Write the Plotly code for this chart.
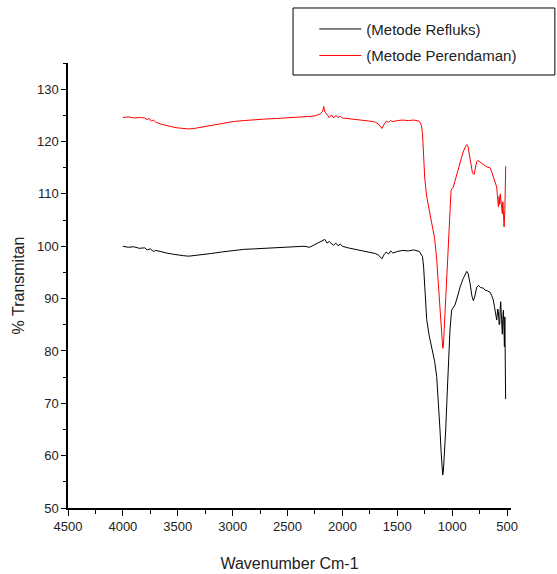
import plotly.graph_objects as go

# Wavenumbers (cm-1) and % transmittance
wn_refluks = [4000, 3950, 3900, 3850, 3800, 3780, 3750, 3720, 3700, 3650, 3600, 3550, 3500,
              3450, 3400, 3350, 3300, 3200, 3100, 3000, 2900, 2800, 2700, 2600, 2500, 2400,
              2350, 2300, 2250, 2200, 2180, 2160, 2140, 2120, 2100, 2080, 2060, 2040, 2020,
              2000, 1950, 1900, 1850, 1800, 1750, 1700, 1670, 1650, 1640, 1620, 1600, 1580,
              1560, 1540, 1500, 1450, 1400, 1350, 1320, 1300, 1290, 1280, 1270, 1260, 1250,
              1232, 1210, 1186, 1160, 1141, 1125, 1111, 1100, 1090, 1086, 1080, 1070, 1059,
              1047, 1035, 1020, 1005, 990, 974, 950, 928, 900, 880, 867, 855, 845, 837, 820,
              807, 795, 785, 776, 760, 740, 716, 700, 680, 655, 640, 625, 615, 610, 600, 594,
              585, 579, 572, 567, 562, 558, 550, 543, 538, 533, 528, 524, 520, 517, 515, 513]
t_refluks = [100.0, 99.8, 99.9, 99.6, 99.7, 99.3, 99.5, 99.0, 99.2, 98.9, 98.7, 98.5, 98.3,
             98.2, 98.1, 98.2, 98.3, 98.6, 98.9, 99.2, 99.4, 99.5, 99.6, 99.7, 99.8, 99.9,
             100.0, 99.8, 100.3, 100.8, 101.0, 101.3, 100.6, 100.9, 100.5, 100.2, 100.6, 100.1, 100.4,
             100.0, 99.7, 99.5, 99.2, 99.0, 98.8, 98.6, 98.3, 97.9, 97.6, 98.4, 98.9, 98.5,
             99.1, 98.7, 99.0, 99.2, 99.1, 99.3, 99.2, 99.0, 98.7, 98.4, 98.0, 96.0, 92.0,
             86.0, 83.0, 80.8, 78.0, 75.1, 70.5, 65.0, 60.5, 57.0, 56.3, 57.0, 60.0, 64.9,
             71.0, 77.6, 84.0, 87.8, 88.4, 88.8, 90.5, 92.2, 93.8, 94.8, 95.2, 94.8, 93.8, 92.9, 90.5,
             89.6, 90.3, 91.6, 92.2, 92.5, 92.1, 92.0, 91.6, 91.5, 91.2, 90.6, 89.7, 88.5, 87.8, 86.5, 85.9,
             88.0, 87.5, 85.0, 85.1, 88.2, 89.4, 86.0, 83.2, 86.5, 87.8, 84.0, 80.8, 86.5, 82.0, 77.0, 70.8]

wn_perendaman = [4000, 3950, 3900, 3850, 3800, 3780, 3760, 3740, 3720, 3700, 3650, 3600, 3550,
                 3500, 3450, 3400, 3350, 3300, 3200, 3100, 3000, 2900, 2800, 2700, 2600, 2500,
                 2400, 2300, 2250, 2200, 2180, 2170, 2160, 2140, 2120, 2100, 2080, 2060, 2040,
                 2020, 2000, 1950, 1900, 1850, 1800, 1750, 1700, 1670, 1650, 1640, 1620, 1600,
                 1580, 1560, 1540, 1500, 1450, 1400, 1350, 1320, 1300, 1290, 1280, 1270, 1260,
                 1250, 1232, 1210, 1186, 1160, 1141, 1125, 1111, 1100, 1090, 1086, 1080, 1070,
                 1059, 1047, 1035, 1020, 1010, 990, 974, 950, 928, 900, 880, 867, 855, 845, 831,
                 815, 801, 790, 776, 767, 750, 730, 716, 700, 680, 655, 640, 625, 610, 594, 585,
                 579, 572, 567, 562, 558, 550, 543, 538, 533, 527, 520, 516, 512]
t_perendaman = [124.6, 124.7, 124.5, 124.6, 124.5, 124.2, 124.4, 123.9, 124.1, 123.7, 123.3, 123.0, 122.8,
                122.6, 122.5, 122.4, 122.5, 122.7, 123.1, 123.5, 123.8, 124.0, 124.2, 124.3, 124.4, 124.5,
                124.6, 124.8, 124.9, 125.3, 125.8, 126.7, 125.6, 125.2, 124.6, 125.1, 124.5, 125.0, 124.6,
                124.8, 124.5, 124.4, 124.3, 124.2, 124.0, 123.9, 123.7, 123.3, 122.8, 122.5, 123.3, 123.9,
                123.7, 124.0, 123.8, 124.0, 124.1, 124.0, 124.1, 124.0, 123.9, 123.6, 123.0, 121.5, 117.0,
                113.0, 109.5, 107.0, 104.5, 101.5, 97.5, 92.0, 87.5, 84.0, 81.0, 80.5, 81.0, 85.0,
                90.0, 95.0, 101.0, 107.5, 110.7, 111.3, 112.5, 114.5, 116.4, 118.0, 119.0, 119.4, 119.0, 117.5, 115.8,
                114.0, 113.7, 114.8, 116.2, 116.4, 116.1, 115.9, 115.6, 115.4, 115.1, 115.0, 114.2, 113.2, 112.0, 111.3, 109.0,
                107.5, 109.5, 108.0, 110.0, 109.4, 107.5, 106.2, 108.5, 106.0, 103.7, 107.0, 110.0, 115.3]

series_names = ["(Metode Refluks)", "(Metode Perendaman)"]
series_colors = ["#000000", "#ff0000"]

x_ticks = [4500, 4000, 3500, 3000, 2500, 2000, 1500, 1000, 500]
y_ticks = [50, 60, 70, 80, 90, 100, 110, 120, 130]

FONT = "Liberation Sans, Arial, sans-serif"

fig = go.Figure()
fig.add_trace(go.Scatter(x=wn_refluks, y=t_refluks, mode="lines", name=series_names[0],
                         legendgroup="a", line=dict(color=series_colors[0], width=1)))
fig.add_trace(go.Scatter(x=wn_perendaman, y=t_perendaman, mode="lines", name=series_names[1],
                         legendgroup="b", line=dict(color=series_colors[1], width=1)))

axis_common = dict(showline=True, linecolor="black", linewidth=1.5, showgrid=False,
                   zeroline=False, ticks="outside", tickcolor="black", tickwidth=1.2,
                   automargin=False,
                   tickfont=dict(family=FONT, size=13, color="#222"))

fig.update_xaxes(range=[4500, 464], tickvals=x_ticks, ticklen=6,
                 minor=dict(dtick=250, tick0=0, ticklen=4, ticks="outside", tickcolor="black", tickwidth=1.2),
                 title=dict(text="Wavenumber Cm-1", font=dict(family=FONT, size=16, color="#222"), standoff=24),
                 **axis_common)
fig.update_yaxes(range=[50, 135], tickvals=y_ticks, ticklen=5,
                 minor=dict(dtick=5, tick0=0, ticklen=3, ticks="outside", tickcolor="black", tickwidth=1.2),
                 title=dict(text="% Transmitan", font=dict(family=FONT, size=16, color="#222"), standoff=8),
                 **axis_common)

fig.add_shape(type="rect", xref="paper", yref="paper", x0=0.508, x1=1.099, y0=0.973, y1=1.1236,
              line=dict(color="black", width=1), fillcolor="rgba(0,0,0,0)")

fig.update_layout(
    width=557, height=574,
    margin=dict(l=68, r=46, t=63, b=66),
    paper_bgcolor="white", plot_bgcolor="white",
    font=dict(family=FONT, color="#222"),
    legend=dict(x=0.556, y=1.113, xanchor="left", yanchor="top", bgcolor="rgba(0,0,0,0)",
                borderwidth=0, font=dict(family=FONT, size=15, color="#222"), itemwidth=42,
                tracegroupgap=4),
    showlegend=True,
)

# remove the default 8px page margin so the figure fills the window exactly
fig.write_html("out.html", config={"displayModeBar": False},
               post_script="document.body.style.margin='0px';")
